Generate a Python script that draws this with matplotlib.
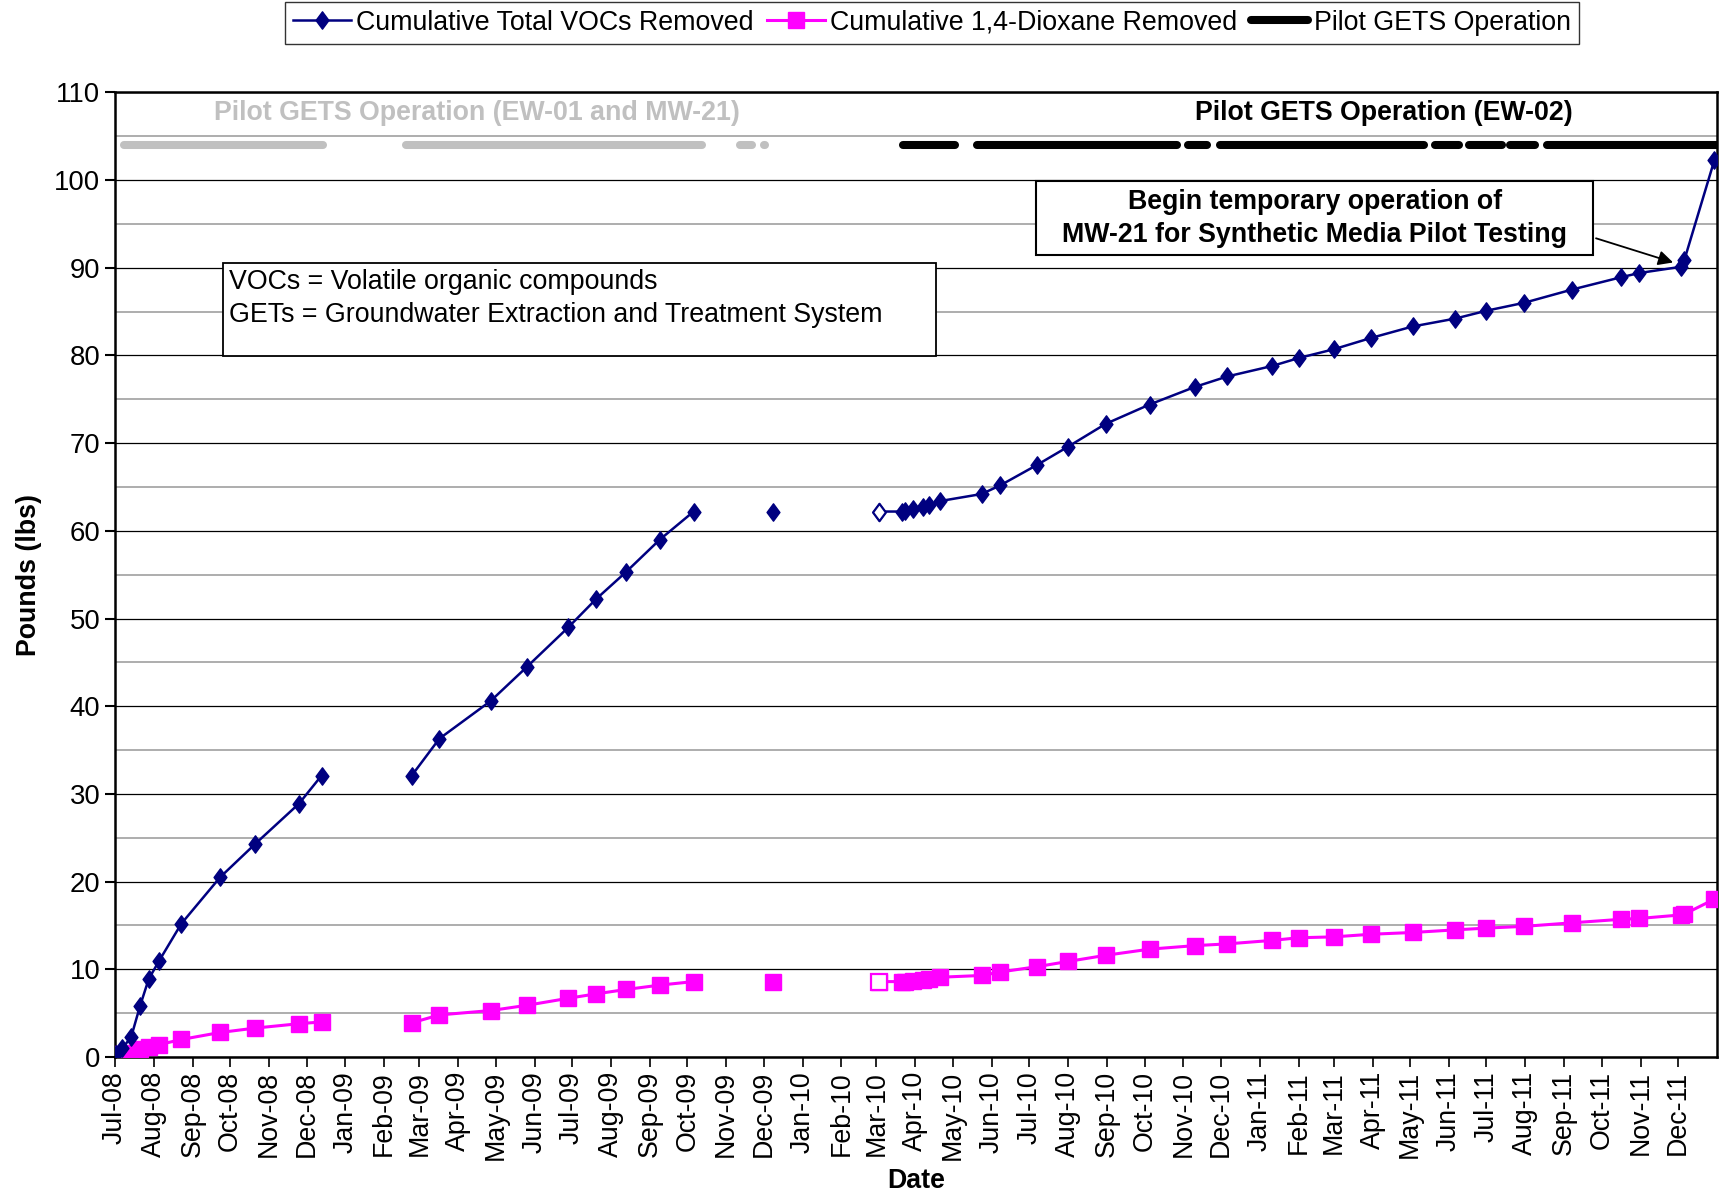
import matplotlib
matplotlib.use("Agg")
from matplotlib import pyplot as plt
from matplotlib.patches import Rectangle
from matplotlib.path import Path
import matplotlib.dates as mdates
import numpy as np
import pandas as pd

plt.rcParams['font.family'] = ['Liberation Sans', 'DejaVu Sans']

# sampling dates, shared by both series
sample_dates = [
    "2008-07-02", "2008-07-07", "2008-07-14", "2008-07-21", "2008-07-28", "2008-08-05",
    "2008-08-23", "2008-09-23", "2008-10-21", "2008-11-25", "2008-12-13",
    "2009-02-23", "2009-03-17", "2009-04-27", "2009-05-26", "2009-06-28", "2009-07-20",
    "2009-08-13", "2009-09-09", "2009-10-06",
    "2009-12-08",
    "2010-03-03", "2010-03-21", "2010-03-24", "2010-03-30", "2010-04-07", "2010-04-12",
    "2010-04-21", "2010-05-24", "2010-06-08", "2010-07-07", "2010-08-01", "2010-08-31",
    "2010-10-05", "2010-11-10", "2010-12-06", "2011-01-11", "2011-02-01", "2011-03-01",
    "2011-03-31", "2011-05-03", "2011-06-06", "2011-07-01", "2011-07-31", "2011-09-07",
    "2011-10-16", "2011-10-31", "2011-12-03", "2011-12-06", "2011-12-30",
]
# points per connected run of the lines
segment_lengths = [11, 9, 1, 29]
hollow_point = 21  # first point of the last run is drawn open

voc_removed = [
    0.3, 1.0, 2.3, 5.8, 8.9, 10.9, 15.2, 20.5, 24.3, 28.9, 32.1,
    32.1, 36.3, 40.6, 44.5, 49.0, 52.2, 55.3, 59.0, 62.2,
    62.2,
    62.2, 62.2, 62.3, 62.5, 62.7, 62.9, 63.4, 64.2, 65.2, 67.5, 69.6, 72.2, 74.4, 76.4,
    77.6, 78.8, 79.7, 80.7, 82.0, 83.3, 84.2, 85.1, 86.0, 87.5, 88.9, 89.4, 90.1, 90.9,
    102.3,
]
dioxane_removed = [
    0.1, 0.3, 0.5, 0.9, 1.1, 1.4, 2.0, 2.8, 3.3, 3.8, 4.0,
    3.9, 4.8, 5.3, 5.9, 6.7, 7.2, 7.7, 8.2, 8.6,
    8.6,
    8.6, 8.6, 8.6, 8.7, 8.8, 8.9, 9.1, 9.3, 9.7, 10.3, 10.9, 11.6, 12.3, 12.7,
    12.9, 13.3, 13.6, 13.7, 14.0, 14.2, 14.5, 14.7, 14.9, 15.3, 15.7, 15.8, 16.2, 16.3,
    18.0,
]

# pilot GETS operating periods
gets_ew01_mw21 = [
    ("2008-07-08", "2008-12-14"), ("2009-02-18", "2009-10-13"),
    ("2009-11-12", "2009-11-22"), ("2009-12-01", "2009-12-02"),
]
gets_ew02 = [
    ("2010-03-22", "2010-05-03"), ("2010-05-20", "2010-10-27"), ("2010-11-05", "2010-11-20"),
    ("2010-11-30", "2011-05-12"), ("2011-05-21", "2011-06-09"), ("2011-06-17", "2011-07-13"),
    ("2011-07-20", "2011-08-09"), ("2011-08-18", "2012-01-01"),
]
gets_level = 104

NAVY = "#000080"
MAGENTA = "#FF00FF"
GRAY = "#C0C0C0"
FS = 19.3

# excel-like diamond, a bit wider than matplotlib's thin diamond
DIAMOND = Path([(0, 1), (0.74, 0), (0, -1), (-0.74, 0), (0, 1)],
               [Path.MOVETO, Path.LINETO, Path.LINETO, Path.LINETO, Path.CLOSEPOLY])
DMS = 12.5
SMS = 11.0

dates = pd.to_datetime(sample_dates)
voc = np.array(voc_removed)
diox = np.array(dioxane_removed)

fig = plt.figure(figsize=(17.23, 11.96), dpi=100)
ax = fig.add_axes([0.0667, 0.1162, 0.9298, 0.8066])

for periods, col in ((gets_ew01_mw21, GRAY), (gets_ew02, "black")):
    for a, b in periods:
        ax.plot(pd.to_datetime([a, b]), [gets_level, gets_level], color=col, lw=5.8,
                solid_capstyle="round", zorder=3)

start = 0
for n in segment_lengths:
    idx = slice(start, start + n)
    ax.plot(dates[idx], diox[idx], color=MAGENTA, lw=2.2, marker="s", ms=SMS,
            mec=MAGENTA, mfc=MAGENTA, linestyle="-" if n > 1 else "none", zorder=4)
    ax.plot(dates[idx], voc[idx], color=NAVY, lw=1.8, marker=DIAMOND, ms=DMS,
            mec=NAVY, mfc=NAVY, linestyle="-" if n > 1 else "none", zorder=5)
    start += n

# open markers
ax.plot(dates[hollow_point], diox[hollow_point], marker="s", ms=SMS, mfc="white",
        mec=MAGENTA, mew=1.6, linestyle="none", zorder=6)
ax.plot(dates[hollow_point], voc[hollow_point], marker=DIAMOND, ms=DMS, mfc="white",
        mec=NAVY, mew=1.6, linestyle="none", zorder=6)

ax.set_xlim(pd.Timestamp("2008-07-01"), pd.Timestamp("2012-01-01"))
ax.set_ylim(0, 110)
ax.set_yticks(np.arange(0, 111, 10))
ax.set_yticks(np.arange(5, 110, 10), minor=True)
ax.yaxis.grid(True, which="major", color="black", lw=0.9)
ax.yaxis.grid(True, which="minor", color="#A0A0A0", lw=1.2)
ax.set_axisbelow(True)

month_ticks = pd.date_range("2008-07-01", "2011-12-01", freq="MS")
ax.set_xticks(month_ticks)
ax.xaxis.set_major_formatter(mdates.DateFormatter("%b-%y"))
ax.tick_params(axis="x", rotation=90, labelsize=FS, length=7, width=1.2, direction="out", pad=3)
ax.tick_params(axis="y", which="major", labelsize=FS + 0.5, length=7, width=1.5, direction="out")
ax.tick_params(axis="y", which="minor", length=0)
for s in ax.spines.values():
    s.set_linewidth(1.8)

ax.set_ylabel("Pounds (lbs)", fontsize=FS, fontweight="bold", labelpad=9)
ax.set_xlabel("Date", fontsize=FS, fontweight="bold", labelpad=6)

ax.text(0.226, 0.979, "Pilot GETS Operation (EW-01 and MW-21)", transform=ax.transAxes,
        ha="center", va="center", fontsize=FS, fontweight="bold", color=GRAY)
ax.text(0.792, 0.979, "Pilot GETS Operation (EW-02)", transform=ax.transAxes,
        ha="center", va="center", fontsize=FS, fontweight="bold", color="black")

# abbreviation box
ax.add_patch(Rectangle((0.0674, 0.7264), 0.4451, 0.0964, transform=ax.transAxes,
                       fc="white", ec="black", lw=1.3, zorder=7))
ax.text(0.0712, 0.803, "VOCs = Volatile organic compounds", transform=ax.transAxes,
        ha="left", va="center", fontsize=FS, zorder=8)
ax.text(0.0712, 0.769, "GETs = Groundwater Extraction and Treatment System", transform=ax.transAxes,
        ha="left", va="center", fontsize=FS, zorder=8)

# callout box with arrow
ax.add_patch(Rectangle((0.575, 0.831), 0.3476, 0.0768, transform=ax.transAxes,
                       fc="white", ec="black", lw=1.5, zorder=7))
ax.text(0.749, 0.886, "Begin temporary operation of", transform=ax.transAxes,
        ha="center", va="center", fontsize=FS, fontweight="bold", zorder=8)
ax.text(0.749, 0.852, "MW-21 for Synthetic Media Pilot Testing", transform=ax.transAxes,
        ha="center", va="center", fontsize=FS, fontweight="bold", zorder=8)
ax.annotate("", xy=(pd.Timestamp("2011-11-27"), 90.6), xycoords="data",
            xytext=(0.9245, 0.8487), textcoords="axes fraction",
            arrowprops=dict(arrowstyle="-|>", color="black", lw=1.3,
                            shrinkA=0, shrinkB=0, mutation_scale=22), zorder=8)

h1, = ax.plot([], [], color=NAVY, lw=1.8, marker=DIAMOND, ms=DMS, label="Cumulative Total VOCs Removed")
h2, = ax.plot([], [], color=MAGENTA, lw=2.2, marker="s", ms=SMS, label="Cumulative 1,4-Dioxane Removed")
h3, = ax.plot([], [], color="black", lw=5.8, solid_capstyle="round", label="Pilot GETS Operation")
leg = fig.legend(handles=[h1, h2, h3], loc="center", bbox_to_anchor=(0.541, 0.981), ncol=3,
                 fontsize=FS, frameon=True, fancybox=False, edgecolor="black",
                 handlelength=2.15, handletextpad=0.2, columnspacing=0.5, borderpad=0.3)
leg.get_frame().set_linewidth(1.0)

fig.savefig("out.png", dpi=100, facecolor="white")
